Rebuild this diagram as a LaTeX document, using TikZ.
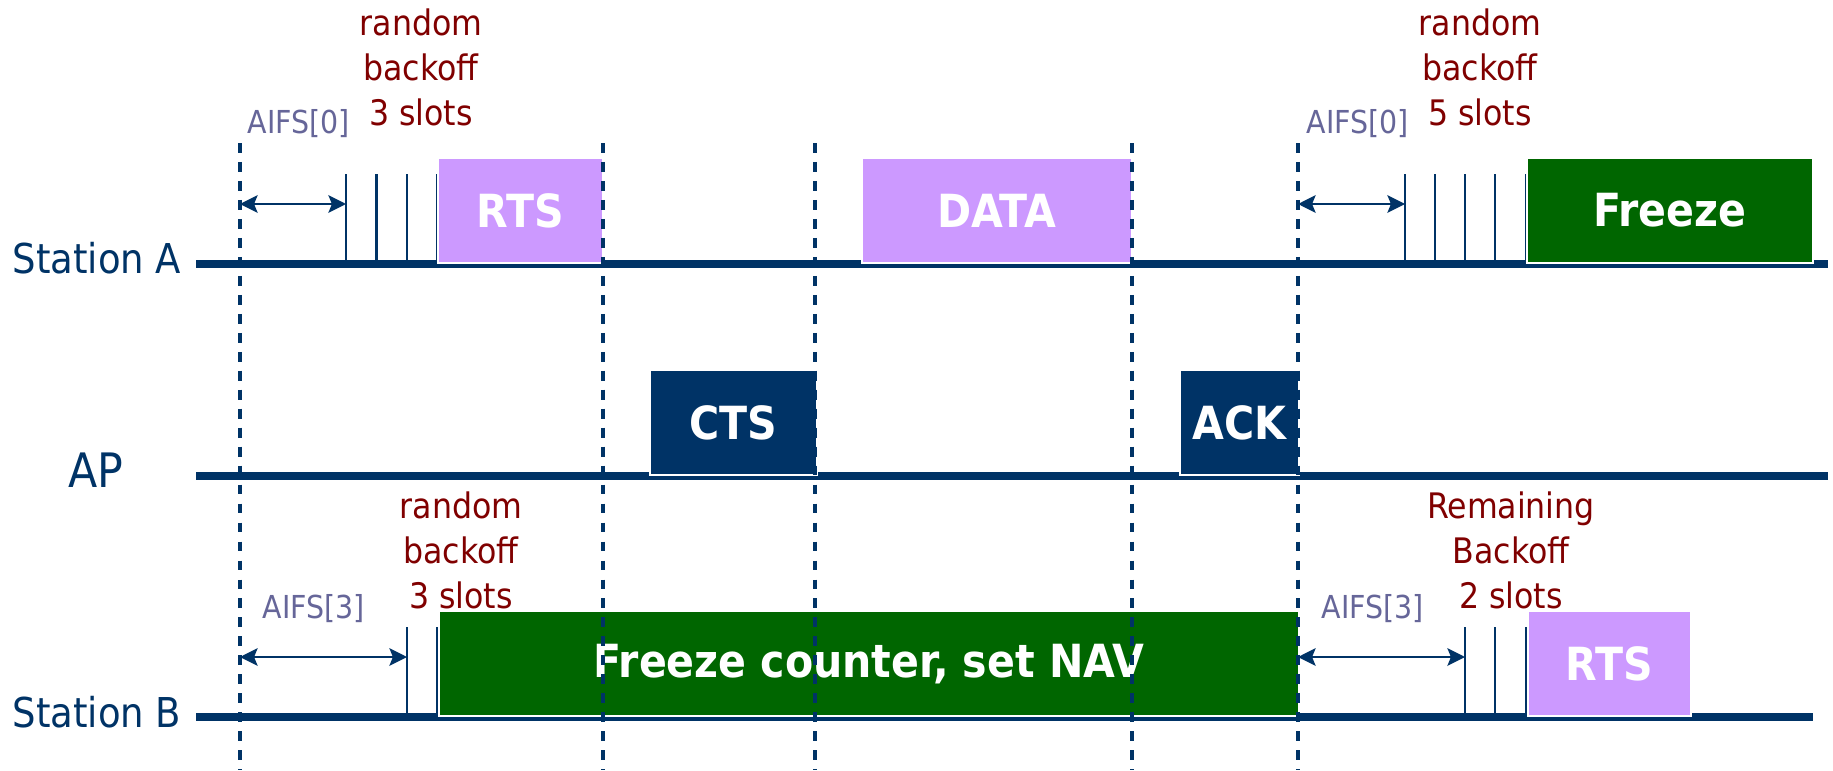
\documentclass[tikz,border=0pt]{standalone}
\usepackage{fontspec}
\setmainfont{DejaVu Sans Condensed}
\usetikzlibrary{arrows.meta}
\definecolor{azul}{RGB}{0,51,102}
\definecolor{lilas}{RGB}{204,153,255}
\definecolor{verde}{RGB}{0,102,0}
\definecolor{vinho}{RGB}{128,0,0}
\definecolor{cinza}{RGB}{102,102,153}

\begin{document}
\begin{tikzpicture}[>={Stealth[length=5pt,width=5pt,inset=1pt]},
	linha/.style={azul,line width=2.3pt},
	quadro/.style={draw=white,line width=0.5pt,anchor=south west,inner sep=0pt,
		minimum height=1.05cm,text=white,font=\fontsize{13}{15}\selectfont\bfseries},
	slot/.style={azul,line width=0.6pt},
	tempo/.style={azul,line width=0.9pt,dash pattern=on 2.8pt off 2.6pt},
	espera/.style={azul,line width=0.7pt,<->},
	aifs/.style={cinza,anchor=base west,inner sep=0pt,font=\fontsize{9}{11}\selectfont},
	backoff/.style={vinho,anchor=south,inner sep=0pt,align=center,font=\fontsize{10}{12.8}\selectfont},
	nome/.style={azul,anchor=base west,inner sep=0pt}]
	
	\useasboundingbox (0,0) rectangle (18.33,7.70);
	
	% Estacoes
	\node[nome,font=\fontsize{11.7}{14}\selectfont] (stA) at (0.12,4.97) {Station A};
	\node[nome,font=\fontsize{13.5}{16}\selectfont] (ap) at (0.68,2.83) {AP};
	\node[nome,font=\fontsize{11.7}{14}\selectfont] (stB) at (0.12,0.43) {Station B};
	
	% Linhas do tempo
	\coordinate (A0) at (1.96,5.06);  \coordinate (A1) at (18.28,5.06);
	\coordinate (P0) at (1.96,2.94);  \coordinate (P1) at (18.28,2.94);
	\coordinate (B0) at (1.96,0.53);  \coordinate (B1) at (18.13,0.53);
	\draw[linha] (A0) -- (A1);
	\draw[linha] (P0) -- (P1);
	\draw[linha] (B0) -- (B1);
	
	% slots
	\foreach \x in {3.46,3.765,4.07,4.375,14.05,14.35,14.65,14.95,15.26}
	\draw[slot] (\x,5.06) -- (\x,5.96);
	\foreach \x in {4.07,4.375,14.65,14.95,15.26}
	\draw[slot] (\x,0.53) -- (\x,1.43);
	
	% quadros
	\node[quadro,fill=lilas,minimum width=1.65cm] (rtsA) at (4.37,5.06) {RTS};
	\node[quadro,fill=lilas,minimum width=2.70cm] (data) at (8.61,5.06) {DATA};
	\node[quadro,fill=verde,minimum width=2.86cm] (frzA) at (15.26,5.06) {Freeze};
	\node[quadro,fill=azul,minimum width=1.67cm] (cts) at (6.49,2.94) {CTS};
	\node[quadro,fill=azul,minimum width=1.19cm] (ack) at (11.79,2.94) {ACK};
	\node[quadro,fill=verde,minimum width=8.60cm] (nav) at (4.38,0.53) {Freeze counter, set NAV};
	\node[quadro,fill=lilas,minimum width=1.63cm] (rtsB) at (15.27,0.53) {RTS};
	
	% AIFS
	\coordinate (wA0) at (2.40,5.66);   \coordinate (wA1) at (3.46,5.66);
	\coordinate (wA2) at (12.98,5.66);  \coordinate (wA3) at (14.05,5.66);
	\coordinate (wB0) at (2.40,1.13);   \coordinate (wB1) at (4.07,1.13);
	\coordinate (wB2) at (12.98,1.13);  \coordinate (wB3) at (14.65,1.13);
	\draw[espera] (wA0) -- (wA1);
	\draw[espera] (wA2) -- (wA3);
	\draw[espera] (wB0) -- (wB1);
	\draw[espera] (wB2) -- (wB3);
	\node[aifs] (aifsA) at (2.47,6.37) {AIFS[0]};
	\node[aifs] (aifsA2) at (13.06,6.37) {AIFS[0]};
	\node[aifs] (aifsB) at (2.62,1.52) {AIFS[3]};
	\node[aifs] (aifsB2) at (13.21,1.52) {AIFS[3]};
	
	% backoff
	\node[backoff] (boA) at (4.21,6.43) {random\\backoff\\3 slots};
	\node[backoff] (boA2) at (14.80,6.43) {random\\backoff\\5 slots};
	\node[backoff] (boB) at (4.61,1.60) {random\\backoff\\3 slots};
	\node[backoff] (boB2) at (15.11,1.60) {Remaining\\Backoff\\2 slots};
	
	% instantes
	\foreach \x in {2.40,6.03,8.15,11.32,12.98}
	\draw[tempo] (\x,6.27) -- (\x,0);
	
\end{tikzpicture}
\end{document}
